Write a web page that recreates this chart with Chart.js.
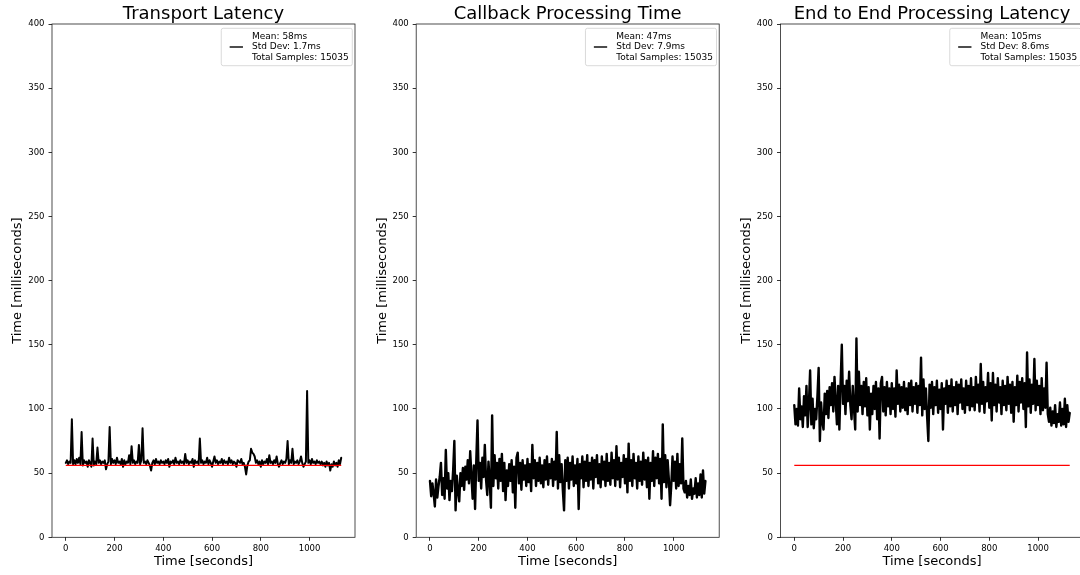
<!DOCTYPE html>
<html><head><meta charset="utf-8">
<script src="https://cdn.jsdelivr.net/npm/chart.js@4.4.0/dist/chart.umd.min.js"></script>
<style>
html,body{margin:0;padding:0;background:#fff;overflow:hidden;width:1080px;height:575px;}
canvas{position:absolute;left:0;top:0;}
</style></head><body>
<canvas id="c0" width="1100" height="575"></canvas>
<canvas id="c1" width="1100" height="575"></canvas>
<canvas id="c2" width="1100" height="575"></canvas>
<script>
const TITLES = ['Transport Latency', 'Callback Processing Time', 'End to End Processing Latency'];
const X_LABEL = 'Time [seconds]';
const Y_LABEL = 'Time [milliseconds]';
const X_TICKS = [0, 200, 400, 600, 800, 1000];
const Y_TICKS = [0, 50, 100, 150, 200, 250, 300, 350, 400];
const SAMPLE_STEP_S = 5;

const TRANSPORT_MS = [
58,60,57,59,58,92,57,60,57,61,
58,62,57,82,56,60,58,59,55,60,
58,55,77,56,59,57,70,58,60,57,
59,58,60,53,57,59,86,57,61,58,
60,57,62,58,59,57,61,55,60,57,
59,58,64,57,71,58,60,57,59,58,
72,57,60,85,58,59,57,60,58,56,
52,58,60,57,61,58,59,57,60,58,
59,57,60,58,61,55,59,58,60,57,
62,58,59,57,60,58,59,57,65,58,
60,57,59,58,61,55,60,58,59,57,
77,58,60,57,59,58,62,57,60,58,
55,59,63,58,60,57,59,58,61,57,
60,58,59,57,62,58,60,57,59,58,
55,60,59,58,61,57,58,55,49,56,
59,60,69,66,65,63,58,60,57,59,
55,60,57,59,58,61,57,64,58,59,
57,60,58,63,57,55,58,60,57,59,
58,61,75,57,60,58,69,57,59,58,
60,57,59,63,58,55,57,59,114,58,
60,57,61,58,59,57,60,58,59,57,
59,56,58,55,59,56,58,52,57,55,
59,56,58,55,60,57,62];

const CALLBACK_MS = [
44,32,42,34,24,45,31,40,47,58,
33,46,30,68,38,50,29,44,36,52,
75,21,48,36,28,50,40,54,37,55,
45,60,42,67,48,30,56,22,60,91,
44,58,38,62,47,72,45,33,59,44,
23,95,40,64,46,58,38,61,44,65,
36,58,29,52,40,57,44,60,35,55,
23,62,66,42,58,37,60,45,56,40,
61,43,57,36,72,46,60,40,58,44,
62,42,56,39,60,45,63,41,57,46,
61,40,59,45,82,38,64,43,57,37,
21,60,44,62,38,58,45,63,40,56,
42,61,22,57,46,63,39,59,44,64,
40,58,45,62,38,60,47,64,42,57,
39,63,45,59,40,65,44,58,41,66,
46,60,40,71,45,62,39,58,47,64,
42,61,35,73,44,60,40,65,46,58,
38,63,44,59,41,66,45,60,39,62,
30,58,44,67,40,62,46,65,42,61,
30,88,43,64,39,60,45,25,41,63,
44,59,38,65,40,57,42,77,38,35,
44,31,40,33,45,30,38,34,46,31,
42,33,49,31,52,34,44];

const END_TO_END_MS = [
103,88,100,87,116,92,102,86,110,95,
118,86,104,130,88,108,85,100,92,110,
132,75,105,90,84,112,96,114,93,117,
103,120,98,125,106,88,118,84,120,150,
104,118,96,122,106,129,103,92,118,100,
84,155,98,129,103,118,96,121,102,124,
95,117,84,112,96,118,100,121,92,116,
77,120,125,98,117,95,121,102,116,96,
120,100,116,94,130,104,119,98,117,101,
121,99,116,96,120,103,122,98,117,104,
120,97,118,103,140,95,123,100,116,94,
75,119,101,121,96,117,103,122,97,115,
100,120,84,116,104,122,97,118,102,123,
98,117,103,121,96,119,105,123,100,116,
97,122,103,118,99,124,102,117,99,125,
105,119,98,135,104,121,97,117,106,128,
101,120,91,128,103,119,98,124,105,117,
96,122,103,118,99,125,104,119,97,121,
90,117,103,126,98,121,105,124,100,120,
86,144,102,123,97,119,104,139,99,122,
103,118,96,124,99,116,101,136,96,90,
101,87,98,89,103,86,96,90,105,87,
100,88,108,86,103,90,97];

const REFERENCE_T = [0, 1130];
const REFERENCE_MS = [56, 56];
const REFERENCE_SHOWN = [true, false, true];

const LEGEND_MEAN = ['58ms', '47ms', '105ms'];
const LEGEND_STD = ['1.7ms', '7.9ms', '8.6ms'];
const LEGEND_SAMPLES = [15035, 15035, 15035];

const SERIES = [TRANSPORT_MS, CALLBACK_MS, END_TO_END_MS];

const FONT = '"DejaVu Sans", sans-serif';
const PANEL_LEFT = [52, 416.2, 780.5];
const PANEL_W = 303;
const CANVAS_W = 1100;
const LINE_W = [2, 2.4, 2.4];

const decor = {
  id: 'mplDecor',
  afterDraw(chart, args, opts) {
    const ctx = chart.ctx, a = chart.chartArea;
    ctx.save();
    ctx.strokeStyle = '#222';
    ctx.lineWidth = 0.8;
    ctx.strokeRect(a.left, a.top, a.right - a.left, a.bottom - a.top);
    ctx.fillStyle = '#000';
    ctx.font = '18px ' + FONT;
    ctx.textAlign = 'center';
    ctx.textBaseline = 'alphabetic';
    ctx.fillText(opts.title, (a.left + a.right) / 2, 19);
    ctx.font = '9px ' + FONT;
    const lines = opts.lines;
    const tw = Math.max(...lines.map(l => ctx.measureText(l).width));
    const lh = 10.8;
    const boxW = 8.4 + 13.3 + 9 + tw + 3.5;
    const boxH = 37.4;
    const bx = a.right - 2.7 - boxW;
    const by = a.top + 4.3;
    ctx.beginPath();
    if (ctx.roundRect) ctx.roundRect(bx, by, boxW, boxH, 2); else ctx.rect(bx, by, boxW, boxH);
    ctx.fillStyle = 'rgba(255,255,255,0.8)';
    ctx.fill();
    ctx.strokeStyle = '#d0d0d0';
    ctx.lineWidth = 0.8;
    ctx.stroke();
    const cy = by + boxH / 2;
    ctx.beginPath();
    ctx.moveTo(bx + 8.4, cy);
    ctx.lineTo(bx + 8.4 + 13.3, cy);
    ctx.strokeStyle = '#000';
    ctx.lineWidth = 1.4;
    ctx.stroke();
    ctx.fillStyle = '#000';
    ctx.textAlign = 'left';
    ctx.textBaseline = 'middle';
    lines.forEach((l, k) => ctx.fillText(l, bx + 8.4 + 13.3 + 9, cy + (k - 1) * lh));
    ctx.restore();
  }
};

function makeChart(idx) {
  const values = SERIES[idx];
  const pts = values.map((v, i) => ({x: i * SAMPLE_STEP_S, y: v}));
  const datasets = [];
  if (REFERENCE_SHOWN[idx]) {
    datasets.push({data: REFERENCE_T.map((t, i) => ({x: t, y: REFERENCE_MS[i]})),
      borderColor: '#ff0000', borderWidth: 1.3, pointRadius: 0, tension: 0, fill: false});
  }
  datasets.push({data: pts, borderColor: '#000', borderWidth: LINE_W[idx], pointRadius: 0, tension: 0, fill: false,
    borderJoinStyle: 'round', borderCapStyle: 'round'});
  const L = PANEL_LEFT[idx];
  new Chart(document.getElementById('c' + idx), {
    type: 'line',
    data: {datasets},
    options: {
      responsive: false, animation: false, devicePixelRatio: 1,
      layout: {padding: {left: L - 46, right: CANVAS_W - (L + PANEL_W), top: 24, bottom: 0}},
      plugins: {
        legend: {display: false}, tooltip: {enabled: false},
        mplDecor: {
          title: TITLES[idx],
          lines: ['Mean: ' + LEGEND_MEAN[idx], 'Std Dev: ' + LEGEND_STD[idx], 'Total Samples: ' + LEGEND_SAMPLES[idx]]
        }
      },
      scales: {
        x: {
          type: 'linear', min: -56.5, max: 1186.5,
          afterBuildTicks: s => { s.ticks = X_TICKS.map(v => ({value: v})); },
          afterFit: s => { s.height = 37.7; },
          grid: {drawOnChartArea: false, drawTicks: true, tickLength: 3.5, tickColor: '#000', tickWidth: 0.8},
          border: {display: false},
          ticks: {font: {family: FONT, size: 8.5}, color: '#000', padding: 2.5, maxRotation: 0, autoSkip: false,
                  callback: v => String(v)},
          title: {display: true, text: X_LABEL, font: {family: FONT, size: 13}, color: '#000', padding: {top: 0, bottom: 5.2}}
        },
        y: {
          type: 'linear', min: 0, max: 400,
          afterBuildTicks: s => { s.ticks = Y_TICKS.map(v => ({value: v})); },
          afterFit: s => { s.width = 46; },
          grid: {drawOnChartArea: false, drawTicks: true, tickLength: 3.5, tickColor: '#000', tickWidth: 0.8},
          border: {display: false},
          ticks: {font: {family: FONT, size: 8.5}, color: '#000', padding: 4, autoSkip: false,
                  callback: v => String(v)},
          title: {display: true, text: Y_LABEL, font: {family: FONT, size: 13}, color: '#000', padding: {top: 4.2, bottom: 0}}
        }
      }
    },
    plugins: [decor]
  });
}
[0, 1, 2].forEach(makeChart);
</script>
</body></html>
